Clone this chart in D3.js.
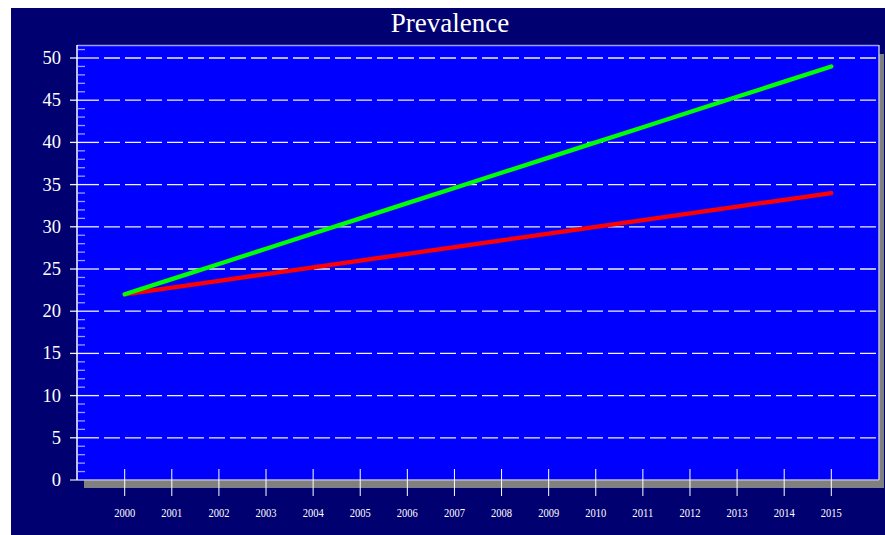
<!DOCTYPE html>
<html><head><meta charset="utf-8">
<script src="https://cdn.jsdelivr.net/npm/d3@7"></script>
<style>body{margin:0;background:#fff;}svg{display:block;}</style>
</head><body>
<svg id="c" width="885" height="535"></svg>
<script>
const years = [2000,2001,2002,2003,2004,2005,2006,2007,2008,2009,2010,2011,2012,2013,2014,2015];
const greenSeries = [22,23.8,25.6,27.4,29.2,31,32.8,34.6,36.4,38.2,40,41.8,43.6,45.4,47.2,49];
const redSeries = [22,22.8,23.6,24.4,25.2,26,26.8,27.6,28.4,29.2,30,30.8,31.6,32.4,33.2,34];
const yTicks = [0,5,10,15,20,25,30,35,40,45,50];
const yMinor = d3.range(1,52).filter(v => v % 5 !== 0);
const title = "Prevalence";

const svg = d3.select("#c");
const font = "'Liberation Serif','Times New Roman',serif";
// outer panel
svg.append("rect").attr("x",11).attr("y",8).attr("width",874).attr("height",527).attr("fill","#000070");
// plot geometry
const L=77, R=879, T=45, B=480;
// shadow
svg.append("rect").attr("x",R).attr("y",54).attr("width",5).attr("height",B-54+8).attr("fill","#808080");
svg.append("rect").attr("x",84).attr("y",B).attr("width",R+5-84).attr("height",8).attr("fill","#808080");
// plot bg
svg.append("rect").attr("x",L).attr("y",T).attr("width",R-L).attr("height",B-T).attr("fill","#0000ff");
svg.append("line").attr("x1",L).attr("x2",R).attr("y1",T+0.5).attr("y2",T+0.5).attr("stroke","#9a9aff").attr("stroke-width",1.5);
svg.append("line").attr("x1",R).attr("x2",R).attr("y1",T).attr("y2",B).attr("stroke","#c0c0d8").attr("stroke-width",1.5);

const x = d3.scaleLinear().domain([2000,2015]).range([124.7,831.3]);
const y = d3.scaleLinear().domain([0,50]).range([B,58]);

// minor ticks
svg.append("g").selectAll("line").data(yMinor).join("line")
  .attr("x1",78).attr("x2",85).attr("y1",d=>y(d)).attr("y2",d=>y(d))
  .attr("stroke","#9a9aff").attr("stroke-width",1.3);
// gridlines
svg.append("g").selectAll("line").data(yTicks.filter(d=>d>0)).join("line")
  .attr("x1",104).attr("x2",R).attr("y1",d=>y(d)).attr("y2",d=>y(d))
  .attr("stroke","#f0f0ff").attr("stroke-width",1.3).attr("stroke-dasharray","16,5");
svg.append("g").selectAll("line").data(yTicks.filter(d=>d>0)).join("line")
  .attr("x1",70).attr("x2",99).attr("y1",d=>y(d)).attr("y2",d=>y(d))
  .attr("stroke","#f0f0ff").attr("stroke-width",1.3);
// bottom axis line
svg.append("line").attr("x1",70).attr("x2",R).attr("y1",B).attr("y2",B).attr("stroke","#b8b8c8").attr("stroke-width",1.5);
// left axis
svg.append("line").attr("x1",L).attr("x2",L).attr("y1",T).attr("y2",B).attr("stroke","#ffffff").attr("stroke-width",1.5);
// y labels
svg.append("g").selectAll("text").data(yTicks).join("text")
  .attr("x",61).attr("y",d=>y(d)+6).attr("text-anchor","end")
  .attr("fill","#fff").attr("font-family",font).attr("font-size",18.5).text(d=>d);
// x ticks
svg.append("g").selectAll("line").data(years).join("line")
  .attr("x1",d=>x(d)).attr("x2",d=>x(d)).attr("y1",469).attr("y2",496)
  .attr("stroke","#fff").attr("stroke-width",1);
svg.append("g").selectAll("text").data(years).join("text")
  .attr("x",d=>x(d)).attr("y",517).attr("text-anchor","middle")
  .attr("fill","#fff").attr("font-family",font).attr("font-size",11.5)
  .attr("textLength",21).attr("lengthAdjust","spacingAndGlyphs").text(d=>d);
// lines
const line = d3.line().x((d,i)=>x(years[i])).y(d=>y(d));
svg.append("path").datum(redSeries).attr("d",line).attr("fill","none")
  .attr("stroke","#ff0000").attr("stroke-width",4.3).attr("stroke-linecap","round");
svg.append("path").datum(greenSeries).attr("d",line).attr("fill","none")
  .attr("stroke","#00ff00").attr("stroke-width",4.3).attr("stroke-linecap","round");
// title
svg.append("text").attr("x",450).attr("y",32).attr("text-anchor","middle")
  .attr("fill","#fff").attr("font-family",font).attr("font-size",27).text(title);
</script>
</body></html>
